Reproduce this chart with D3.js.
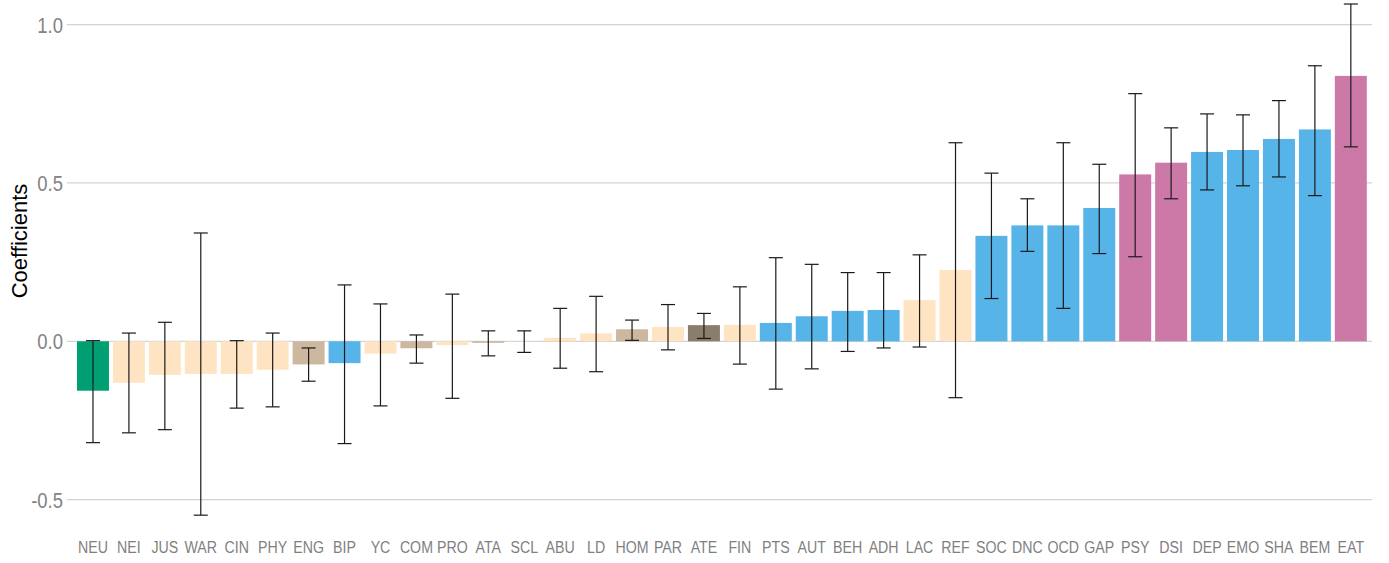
<!DOCTYPE html>
<html>
<head>
<meta charset="utf-8">
<script src="https://cdn.jsdelivr.net/npm/d3@7"></script>
<style>
  html, body { margin: 0; padding: 0; background: #fff; }
  svg { display: block; }
</style>
</head>
<body>
<svg id="chart" width="1389" height="563"></svg>
<script>
// Coefficient estimates per domain, sorted ascending, with confidence limits
const categories = ["NEU","NEI","JUS","WAR","CIN","PHY","ENG","BIP","YC","COM","PRO","ATA","SCL",
  "ABU","LD","HOM","PAR","ATE","FIN","PTS","AUT","BEH","ADH","LAC","REF","SOC","DNC","OCD","GAP",
  "PSY","DSI","DEP","EMO","SHA","BEM","EAT"];
const coefficients = [-0.156,-0.131,-0.106,-0.103,-0.103,-0.090,-0.073,-0.069,-0.039,-0.022,-0.012,-0.005,-0.001,
  0.011,0.025,0.038,0.045,0.051,0.052,0.058,0.079,0.096,0.099,0.130,0.225,0.333,0.366,0.366,0.421,
  0.527,0.564,0.598,0.604,0.639,0.669,0.838];
const lower = [-0.320,-0.289,-0.279,-0.549,-0.211,-0.207,-0.126,-0.323,-0.204,-0.069,-0.180,-0.046,-0.035,
  -0.085,-0.096,0.003,-0.027,0.009,-0.072,-0.151,-0.087,-0.032,-0.021,-0.018,-0.178,0.135,0.284,0.104,0.277,
  0.267,0.450,0.478,0.491,0.519,0.460,0.614];
const upper = [0.002,0.026,0.060,0.342,0.002,0.026,-0.021,0.178,0.118,0.020,0.149,0.033,0.033,
  0.104,0.142,0.067,0.116,0.088,0.172,0.264,0.243,0.217,0.217,0.273,0.627,0.531,0.450,0.627,0.559,
  0.782,0.674,0.718,0.715,0.760,0.870,1.065];
const groups = ["g","p","p","p","p","p","t","b","p","t","p","t","p",
  "p","p","t","p","d","p","b","b","b","b","p","p","b","b","b","b",
  "m","m","b","b","b","b","m"];
const yTicks = [-0.5, 0.0, 0.5, 1.0];

const groupColor = {
  g: "#009E73", // green
  p: "#FFE4C4", // bisque
  t: "#CDB79E", // bisque3
  d: "#8B7D6B", // bisque4
  b: "#56B4E9", // sky blue
  m: "#CC79A7"  // reddish purple
};

const rows = categories.map((c, i) => ({
  cat: c, value: coefficients[i], lo: lower[i], hi: upper[i], grp: groups[i]
}));

// narrow sans: regular sans squeezed horizontally
const sans = "'Liberation Sans', Arial, sans-serif";

const svg = d3.select("#chart");

const x = d3.scaleBand()
  .domain(categories)
  .range([75, 1368.8])
  .paddingInner(0.11)
  .paddingOuter(0.055);

const y = d3.scaleLinear()
  .domain([-0.5, 1.0])
  .range([499.65, 24.6]);

// horizontal grid lines
svg.append("g")
  .selectAll("line")
  .data(yTicks)
  .join("line")
  .attr("x1", 67).attr("x2", 1372)
  .attr("y1", d => y(d)).attr("y2", d => y(d))
  .attr("stroke", "#d3d3d3")
  .attr("stroke-width", 1.3);

// y tick labels
svg.append("g")
  .selectAll("g")
  .data(yTicks)
  .join("g")
  .attr("transform", d => `translate(63,${y(d)})`)
  .append("text")
  .attr("transform", "scale(0.84,1)")
  .attr("dy", "0.36em")
  .attr("text-anchor", "end")
  .attr("font-family", sans)
  .attr("font-size", 22)
  .attr("fill", "#838383")
  .text(d => d3.format(".1f")(d).replace("\u2212", "-"));

// y axis title
svg.append("text")
  .attr("transform", "translate(27,241) rotate(-90)")
  .attr("text-anchor", "middle")
  .attr("font-family", sans)
  .attr("font-size", 22)
  .attr("fill", "#000")
  .text("Coefficients");

// bars
svg.append("g")
  .selectAll("rect")
  .data(rows)
  .join("rect")
  .attr("x", d => x(d.cat))
  .attr("width", x.bandwidth())
  .attr("y", d => Math.min(y(d.value), y(0)))
  .attr("height", d => Math.abs(y(d.value) - y(0)))
  .attr("fill", d => groupColor[d.grp]);

// error bars
const capHalf = 7;
const eb = svg.append("g")
  .attr("stroke", "#1a1a1a")
  .attr("stroke-width", 1.2);
const ebG = eb.selectAll("g")
  .data(rows)
  .join("g")
  .attr("transform", d => `translate(${x(d.cat) + x.bandwidth() / 2},0)`);
ebG.append("line")
  .attr("x1", 0).attr("x2", 0)
  .attr("y1", d => y(d.hi)).attr("y2", d => y(d.lo));
ebG.append("line")
  .attr("x1", -capHalf).attr("x2", capHalf)
  .attr("y1", d => y(d.hi)).attr("y2", d => y(d.hi));
ebG.append("line")
  .attr("x1", -capHalf).attr("x2", capHalf)
  .attr("y1", d => y(d.lo)).attr("y2", d => y(d.lo));

// category labels
const xAxis = svg.append("g")
  .attr("transform", "translate(0,541.5)")
  .call(d3.axisBottom(x).tickSize(0).tickPadding(0));
xAxis.select(".domain").remove();
xAxis.selectAll("text")
  .attr("dy", "0.71em")
  .attr("transform", "scale(0.86,1)")
  .attr("font-family", sans)
  .attr("font-size", 16.5)
  .attr("fill", "#7f7f7f");
</script>
</body>
</html>
